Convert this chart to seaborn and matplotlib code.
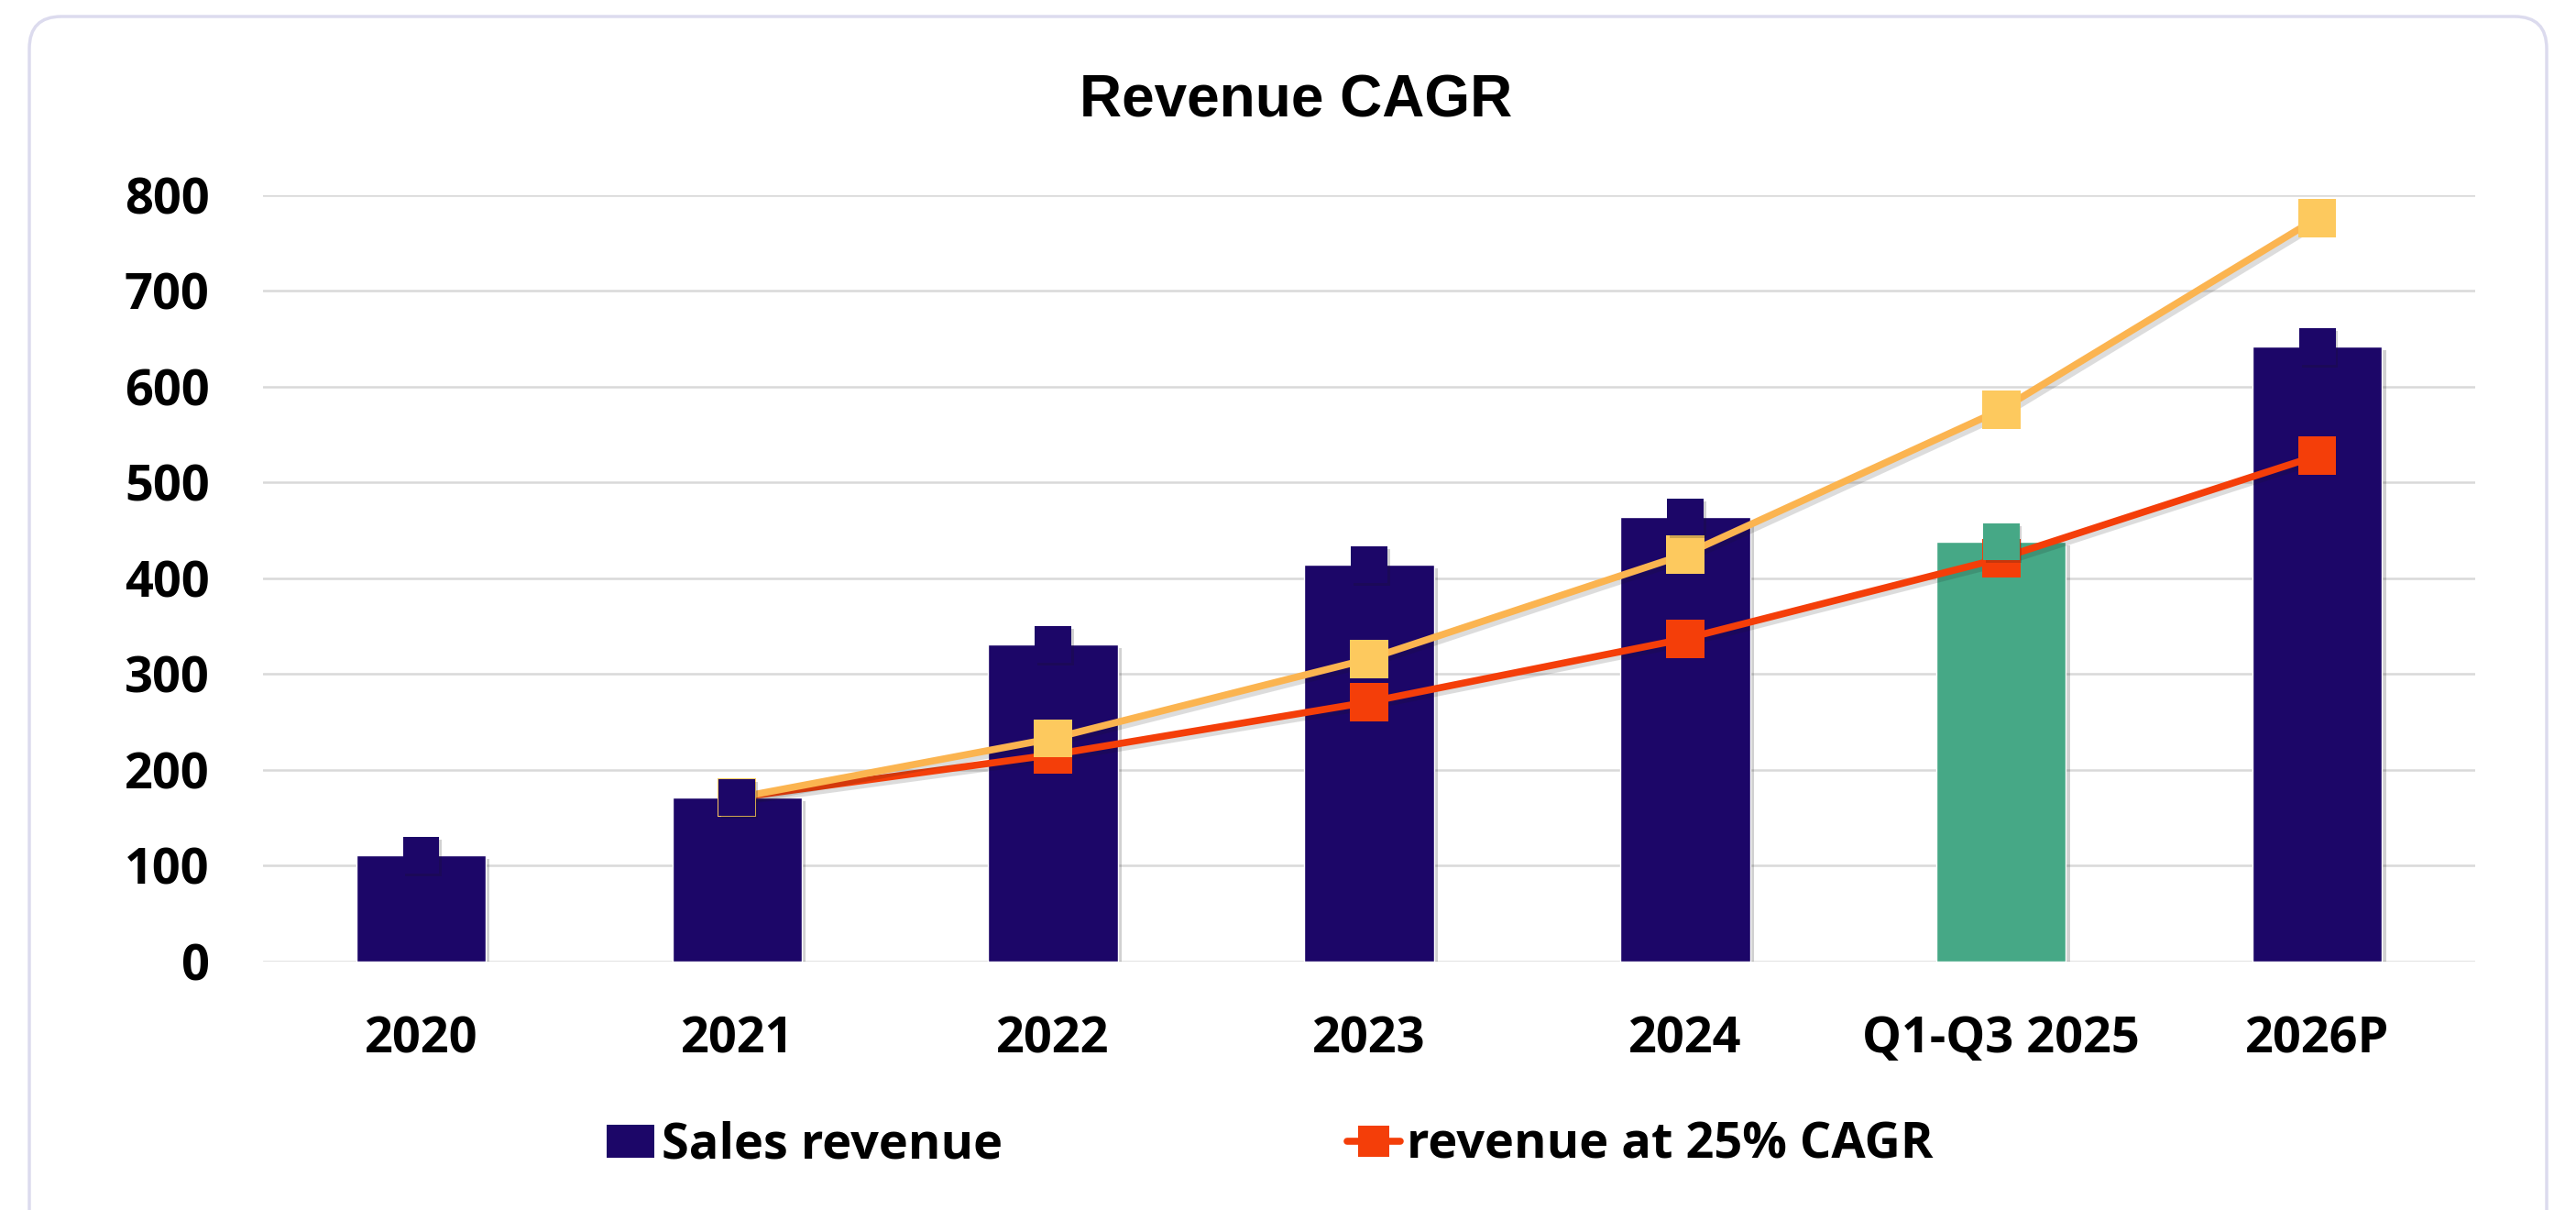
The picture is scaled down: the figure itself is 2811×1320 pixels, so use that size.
import matplotlib
matplotlib.use('Agg')
import matplotlib.pyplot as plt
import matplotlib.patheffects as pe
from matplotlib.patches import FancyBboxPatch, Patch
from matplotlib.lines import Line2D
import seaborn as sns
import numpy as np
import pandas as pd

# data
categories = ['2020', '2021', '2022', '2023', '2024', 'Q1-Q3 2025', '2026P']
sales = [111, 171, 331, 414, 464, 438, 642]
cagr_25 = [np.nan, 171, 216, 271, 337, 421, 528]
cagr_high = [np.nan, 171, 233, 316, 425, 576, 776]
bar_colors = ['#1C0668', '#1C0668', '#1C0668', '#1C0668', '#1C0668', '#46A886', '#1C0668']

df = pd.DataFrame({'cat': categories, 'sales': sales,
                   'cagr_25': cagr_25, 'cagr_high': cagr_high})
df['pos'] = np.arange(len(df))

sns.set_theme(style='white')
plt.rcParams['font.family'] = ['Open Sans', 'DejaVu Sans']

fig = plt.figure(figsize=(28.11, 13.2), dpi=100)
ax = fig.add_axes([0.1021, 0.2053, 0.8588, 0.6335])

shadow_bar = [pe.SimplePatchShadow(offset=(3, -3), shadow_rgbFace='k', alpha=0.2), pe.Normal()]
shadow_line = [pe.SimpleLineShadow(offset=(3, -3), shadow_color='k', alpha=0.15), pe.Normal()]

sns.barplot(data=df, x='cat', y='sales', hue='cat', palette=bar_colors,
            width=0.41, legend=False, ax=ax, zorder=2, saturation=1)
for p in ax.patches:
    p.set_path_effects(shadow_bar)

ln = df.dropna()
sns.lineplot(data=ln, x='pos', y='cagr_25', color='#F43E09', lw=5.5, marker='s',
             markersize=30, markeredgewidth=0, sort=False, ax=ax, zorder=3,
             path_effects=shadow_line)
sns.lineplot(data=ln, x='pos', y='cagr_high', color='#FBB450', lw=5.5, marker='s',
             markersize=30, markerfacecolor='#FDC95E', markeredgewidth=0,
             sort=False, ax=ax, zorder=4, path_effects=shadow_line)
sns.scatterplot(data=df, x='pos', y='sales', hue='cat', palette=bar_colors,
                marker='s', s=820, linewidth=0, legend=False, ax=ax, zorder=5)
for c in ax.collections:
    c.set_clip_on(False)
    c.set_path_effects([pe.SimplePatchShadow(offset=(2, -2), shadow_rgbFace='k', alpha=0.2),
                        pe.Normal()])
for l in ax.lines:
    l.set_clip_on(False)

ax.set_xlim(-0.5, 6.5)
ax.set_ylim(0, 800)
ax.set_yticks(range(0, 801, 100))
ax.set_xticks(df['pos'])
ax.set_xticklabels(categories)
ax.set_xlabel('')
ax.set_ylabel('')
ax.yaxis.grid(True, color='#D9D9D9', lw=1.8, zorder=0)
ax.set_axisbelow(True)
for s in ax.spines.values():
    s.set_visible(False)
ax.tick_params(axis='both', length=0, labelsize=39, colors='black')
ax.tick_params(axis='y', pad=42)
ax.tick_params(axis='x', pad=42)
for t in ax.get_xticklabels() + ax.get_yticklabels():
    t.set_fontweight('bold')

fig.text(0.503, 1 - 111 / 1320, 'Revenue CAGR', ha='center', va='center', color='black',
         fontsize=46, fontweight='bold', family=['Liberation Sans', 'DejaVu Sans'])

h1 = Patch(facecolor='#1C0668', edgecolor='none')
leg1 = fig.legend([h1], ['Sales revenue'], loc='center left',
                  bbox_to_anchor=(662 / 2811, 1 - 1250 / 1320), frameon=False,
                  borderpad=0, borderaxespad=0, handlelength=0.96, handleheight=0.66,
                  handletextpad=0.15, prop={'size': 39, 'weight': 'bold'})
h2 = Line2D([0], [0], color='#F43E09', lw=5.5, marker='s', markersize=24,
            markeredgewidth=0, solid_capstyle='round')
leg2 = fig.legend([h2], ['revenue at 25% CAGR'], loc='center left',
                  bbox_to_anchor=(1470 / 2811, 1 - 1250 / 1320), frameon=False,
                  borderpad=0, borderaxespad=0, handlelength=1.07,
                  handletextpad=0.13, prop={'size': 39, 'weight': 'bold'})
for leg in (leg1, leg2):
    for t in leg.get_texts():
        t.set_color('black')

frame = FancyBboxPatch((0.32, -0.6), 27.47, 13.62, boxstyle='round,pad=0,rounding_size=0.35',
                       transform=fig.dpi_scale_trans, facecolor='none',
                       edgecolor='#DCDBEE', lw=2.5)
fig.patches.append(frame)

fig.savefig('out.png', dpi=100)
